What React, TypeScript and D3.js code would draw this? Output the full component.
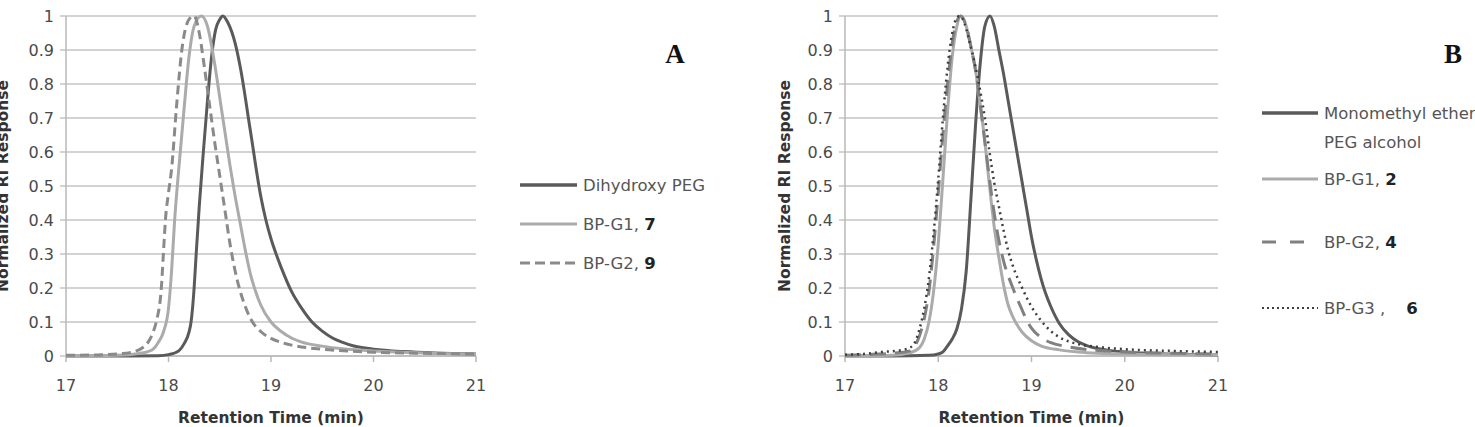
import React, { useEffect, useRef } from "react";
import * as d3 from "d3";

type Pt = [number, number];

// Panel A series (retention time, normalized RI response)
const dihydroxyPEG: Pt[] = [
  [17.0, 0], [17.5, 0], [17.9, 0.001], [18.0, 0.004], [18.1, 0.015], [18.15, 0.035],
  [18.2, 0.07], [18.22, 0.1], [18.25, 0.2], [18.27, 0.3], [18.3, 0.44], [18.34, 0.6],
  [18.38, 0.75], [18.42, 0.88], [18.46, 0.96], [18.5, 0.99], [18.53, 1.0], [18.58, 0.98],
  [18.65, 0.92], [18.7, 0.85], [18.8, 0.66], [18.9, 0.47], [18.95, 0.4], [19.0, 0.345],
  [19.05, 0.3], [19.1, 0.26], [19.2, 0.19], [19.3, 0.14], [19.4, 0.1], [19.5, 0.073],
  [19.6, 0.053], [19.7, 0.04], [19.8, 0.03], [19.9, 0.024], [20.0, 0.02], [20.3, 0.013],
  [20.6, 0.009], [21.0, 0.006],
];
const bpG1_7: Pt[] = [
  [17.0, 0], [17.5, 0.002], [17.7, 0.007], [17.8, 0.013], [17.85, 0.02], [17.9, 0.04],
  [17.95, 0.07], [18.0, 0.14], [18.03, 0.25], [18.06, 0.4], [18.1, 0.55], [18.15, 0.72],
  [18.2, 0.88], [18.25, 0.97], [18.32, 1.0], [18.38, 0.97], [18.45, 0.86], [18.5, 0.76],
  [18.55, 0.66], [18.6, 0.56], [18.65, 0.47], [18.7, 0.39], [18.75, 0.31], [18.8, 0.24],
  [18.85, 0.19], [18.9, 0.15], [19.0, 0.1], [19.1, 0.072], [19.2, 0.053], [19.3, 0.041],
  [19.5, 0.029], [19.7, 0.021], [20.0, 0.015], [20.5, 0.009], [21.0, 0.006],
];
const bpG2_9: Pt[] = [
  [17.0, 0.002], [17.3, 0.003], [17.5, 0.006], [17.65, 0.012], [17.75, 0.025], [17.8, 0.04],
  [17.85, 0.07], [17.88, 0.1], [17.93, 0.2], [17.95, 0.3], [17.97, 0.4], [18.0, 0.48],
  [18.03, 0.55], [18.08, 0.74], [18.13, 0.9], [18.2, 0.99], [18.25, 1.0], [18.3, 0.95],
  [18.35, 0.85], [18.4, 0.74], [18.45, 0.63], [18.5, 0.53], [18.55, 0.43], [18.6, 0.33],
  [18.65, 0.25], [18.7, 0.19], [18.75, 0.145], [18.8, 0.11], [18.9, 0.072], [19.0, 0.052],
  [19.1, 0.04], [19.2, 0.032], [19.5, 0.02], [19.8, 0.014], [20.0, 0.011], [20.5, 0.008],
  [21.0, 0.006],
];

// Panel B series
const monomethylPEG: Pt[] = [
  [17.0, 0], [17.5, 0], [17.9, 0.002], [18.0, 0.006], [18.05, 0.012], [18.1, 0.03],
  [18.15, 0.05], [18.2, 0.08], [18.25, 0.14], [18.3, 0.25], [18.35, 0.46], [18.4, 0.68],
  [18.45, 0.86], [18.5, 0.97], [18.555, 1.0], [18.6, 0.97], [18.65, 0.9], [18.7, 0.83],
  [18.75, 0.75], [18.8, 0.67], [18.85, 0.59], [18.9, 0.51], [18.95, 0.43], [19.0, 0.35],
  [19.05, 0.285], [19.1, 0.23], [19.15, 0.185], [19.2, 0.15], [19.3, 0.095], [19.4, 0.062],
  [19.5, 0.042], [19.6, 0.03], [19.8, 0.018], [20.0, 0.012], [20.5, 0.006], [21.0, 0.003],
];
const bpG1_2: Pt[] = [
  [17.0, 0], [17.5, 0.002], [17.7, 0.01], [17.8, 0.025], [17.85, 0.05], [17.9, 0.1],
  [17.95, 0.19], [18.0, 0.33], [18.05, 0.52], [18.1, 0.72], [18.15, 0.88], [18.2, 0.97],
  [18.24, 1.0], [18.3, 0.97], [18.35, 0.91], [18.4, 0.84], [18.45, 0.74], [18.5, 0.63],
  [18.55, 0.5], [18.6, 0.38], [18.65, 0.29], [18.7, 0.21], [18.75, 0.15], [18.8, 0.115],
  [18.9, 0.07], [19.0, 0.045], [19.1, 0.03], [19.3, 0.018], [19.5, 0.012], [20.0, 0.006],
  [21.0, 0.003],
];
const bpG2_4: Pt[] = [
  [17.0, 0.002], [17.3, 0.005], [17.5, 0.008], [17.7, 0.015], [17.75, 0.03], [17.8, 0.06],
  [17.85, 0.11], [17.9, 0.19], [17.95, 0.32], [18.0, 0.48], [18.05, 0.65], [18.1, 0.8],
  [18.15, 0.92], [18.2, 0.985], [18.24, 1.0], [18.3, 0.97], [18.35, 0.91], [18.4, 0.84],
  [18.45, 0.74], [18.5, 0.63], [18.55, 0.52], [18.6, 0.42], [18.65, 0.34], [18.7, 0.28],
  [18.8, 0.2], [18.9, 0.135], [18.95, 0.105], [19.0, 0.082], [19.1, 0.055], [19.2, 0.04],
  [19.4, 0.027], [19.6, 0.019], [20.0, 0.012], [20.5, 0.008], [21.0, 0.006],
];
const bpG3_6: Pt[] = [
  [17.0, 0.004], [17.2, 0.006], [17.4, 0.012], [17.6, 0.017], [17.7, 0.025], [17.75, 0.04],
  [17.8, 0.08], [17.85, 0.14], [17.9, 0.23], [17.95, 0.36], [18.0, 0.52], [18.05, 0.7],
  [18.1, 0.85], [18.15, 0.95], [18.2, 0.995], [18.23, 1.0], [18.28, 0.98], [18.33, 0.93],
  [18.4, 0.85], [18.45, 0.78], [18.5, 0.7], [18.55, 0.6], [18.6, 0.51], [18.65, 0.44],
  [18.7, 0.37], [18.75, 0.31], [18.8, 0.265], [18.9, 0.2], [19.0, 0.145], [19.1, 0.105],
  [19.2, 0.075], [19.3, 0.055], [19.5, 0.035], [19.7, 0.027], [20.0, 0.02], [20.5, 0.015],
  [21.0, 0.012],
];

const xTicks = [17, 18, 19, 20, 21];
const yTicks = [0, 0.1, 0.2, 0.3, 0.4, 0.5, 0.6, 0.7, 0.8, 0.9, 1];

const legendA = [
  { name: "Dihydroxy PEG", num: "" },
  { name: "BP-G1, ", num: "7" },
  { name: "BP-G2, ", num: "9" },
];
const legendB = [
  { name: "Monomethyl ether", num: "" },
  { name: "BP-G1, ", num: "2" },
  { name: "BP-G2, ", num: "4" },
  { name: "BP-G3 ,    ", num: "6" },
];

const FONT = "'DejaVu Sans', sans-serif";

interface Style {
  color: string;
  width: number;
  dash: string | null;
}

const App: React.FC = () => {
  const svgRef = useRef<SVGSVGElement>(null);

  useEffect(() => {
    if (!svgRef.current) return;
    const svg = d3.select(svgRef.current);
    svg.selectAll("*").remove();

    const drawPanel = (
      left: number,
      right: number,
      series: { data: Pt[]; style: Style }[],
      titleX: number
    ) => {
      const top = 16;
      const bottom = 356;
      const x = d3.scaleLinear().domain([17, 21]).range([left, right]);
      const y = d3.scaleLinear().domain([0, 1]).range([bottom, top]);
      const g = svg.append("g");

      // gridlines + y tick labels
      yTicks.forEach((t) => {
        g.append("line")
          .attr("x1", left - 6)
          .attr("x2", right)
          .attr("y1", y(t))
          .attr("y2", y(t))
          .attr("stroke", "#c4c4c4")
          .attr("stroke-width", 1.5);
        g.append("text")
          .attr("x", left - 12)
          .attr("y", y(t))
          .attr("dy", "0.36em")
          .attr("text-anchor", "end")
          .style("font-family", FONT)
          .style("font-size", "16px")
          .style("fill", "#4a4a4a")
          .text(String(t));
      });

      // axes
      g.append("line")
        .attr("x1", left).attr("x2", left)
        .attr("y1", top).attr("y2", bottom)
        .attr("stroke", "#b8b8b8").attr("stroke-width", 1.5);
      g.append("line")
        .attr("x1", left).attr("x2", right)
        .attr("y1", bottom).attr("y2", bottom)
        .attr("stroke", "#b8b8b8").attr("stroke-width", 1.5);
      xTicks.forEach((t) => {
        g.append("line")
          .attr("x1", x(t)).attr("x2", x(t))
          .attr("y1", bottom).attr("y2", bottom + 6)
          .attr("stroke", "#b8b8b8").attr("stroke-width", 1.5);
        g.append("text")
          .attr("x", x(t))
          .attr("y", bottom + 35)
          .attr("text-anchor", "middle")
          .style("font-family", FONT)
          .style("font-size", "16px")
          .style("fill", "#4a4a4a")
          .text(String(t));
      });

      // axis titles
      g.append("text")
        .attr("x", (left + right) / 2)
        .attr("y", 423)
        .attr("text-anchor", "middle")
        .style("font-family", FONT)
        .style("font-size", "15.5px")
        .style("font-weight", "bold")
        .style("fill", "#333")
        .text("Retention Time (min)");
      g.append("text")
        .attr("transform", `translate(${titleX}, 186) rotate(-90)`)
        .attr("text-anchor", "middle")
        .style("font-family", FONT)
        .style("font-size", "15.5px")
        .style("font-weight", "bold")
        .style("fill", "#333")
        .text("Normalized RI Response");

      const line = d3
        .line<Pt>()
        .x((d) => x(d[0]))
        .y((d) => y(d[1]))
        .curve(d3.curveMonotoneX);

      series.forEach((s) => {
        g.append("path")
          .attr("d", line(s.data) || "")
          .attr("fill", "none")
          .attr("stroke", s.style.color)
          .attr("stroke-width", s.style.width)
          .attr("stroke-dasharray", s.style.dash)
          .attr("stroke-linejoin", "round");
      });
    };

    const darkSolid: Style = { color: "#5a5a5a", width: 3, dash: null };
    const lightSolid: Style = { color: "#ababab", width: 3, dash: null };
    const dashedA: Style = { color: "#8a8a8a", width: 3, dash: "9,5" };
    const longDashB: Style = { color: "#808080", width: 3, dash: "16,9" };
    const dottedB: Style = { color: "#3e3e3e", width: 2.5, dash: "2,4" };

    drawPanel(66, 476, [
      { data: dihydroxyPEG, style: darkSolid },
      { data: bpG1_7, style: lightSolid },
      { data: bpG2_9, style: dashedA },
    ], 8);

    drawPanel(845, 1218, [
      { data: monomethylPEG, style: darkSolid },
      { data: bpG1_2, style: lightSolid },
      { data: bpG2_4, style: longDashB },
      { data: bpG3_6, style: dottedB },
    ], 790);

    // legends
    const drawLegend = (
      items: { name: string; num: string }[],
      styles: Style[],
      x0: number,
      x1: number,
      rows: number[]
    ) => {
      items.forEach((it, i) => {
        const st = styles[i];
        svg.append("line")
          .attr("x1", x0).attr("x2", x1)
          .attr("y1", rows[i]).attr("y2", rows[i])
          .attr("stroke", st.color)
          .attr("stroke-width", st.width)
          .attr("stroke-dasharray", st.dash);
        const t = svg.append("text")
          .attr("x", x1 + 6)
          .attr("y", rows[i])
          .attr("dy", "0.36em")
          .style("font-family", FONT)
          .style("font-size", "16.5px")
          .style("fill", "#555")
          .attr("xml:space", "preserve")
          .style("white-space", "pre");
        t.append("tspan").text(it.name);
        if (it.num) {
          t.append("tspan")
            .style("font-weight", "bold")
            .style("fill", "#222")
            .text(it.num);
        }
      });
    };

    drawLegend(legendA, [
      { color: "#5a5a5a", width: 3.5, dash: null },
      { color: "#ababab", width: 3, dash: null },
      { color: "#8a8a8a", width: 3, dash: "10,5" },
    ], 520, 577, [185, 224, 263]);

    drawLegend(legendB, [
      { color: "#5a5a5a", width: 3.5, dash: null },
      { color: "#ababab", width: 3, dash: null },
      { color: "#808080", width: 3, dash: "14,14" },
      { color: "#3e3e3e", width: 2, dash: "2,3" },
    ], 1262, 1318, [113, 179, 242, 308]);

    svg.append("text")
      .attr("x", 1324)
      .attr("y", 142)
      .attr("dy", "0.36em")
      .style("font-family", FONT)
      .style("font-size", "16.5px")
      .style("fill", "#555")
      .text("PEG alcohol");

    // panel letters
    [["A", 675], ["B", 1453]].forEach(([lbl, px]) => {
      svg.append("text")
        .attr("x", px as number)
        .attr("y", 63)
        .attr("text-anchor", "middle")
        .style("font-family", "'Liberation Serif', serif")
        .style("font-size", "27px")
        .style("font-weight", "bold")
        .style("fill", "#111")
        .text(lbl as string);
    });
  }, []);

  return (
    <svg
      ref={svgRef}
      width={1475}
      height={427}
      style={{ position: "absolute", left: 0, top: 0, background: "#fff" }}
    />
  );
};

export default App;
